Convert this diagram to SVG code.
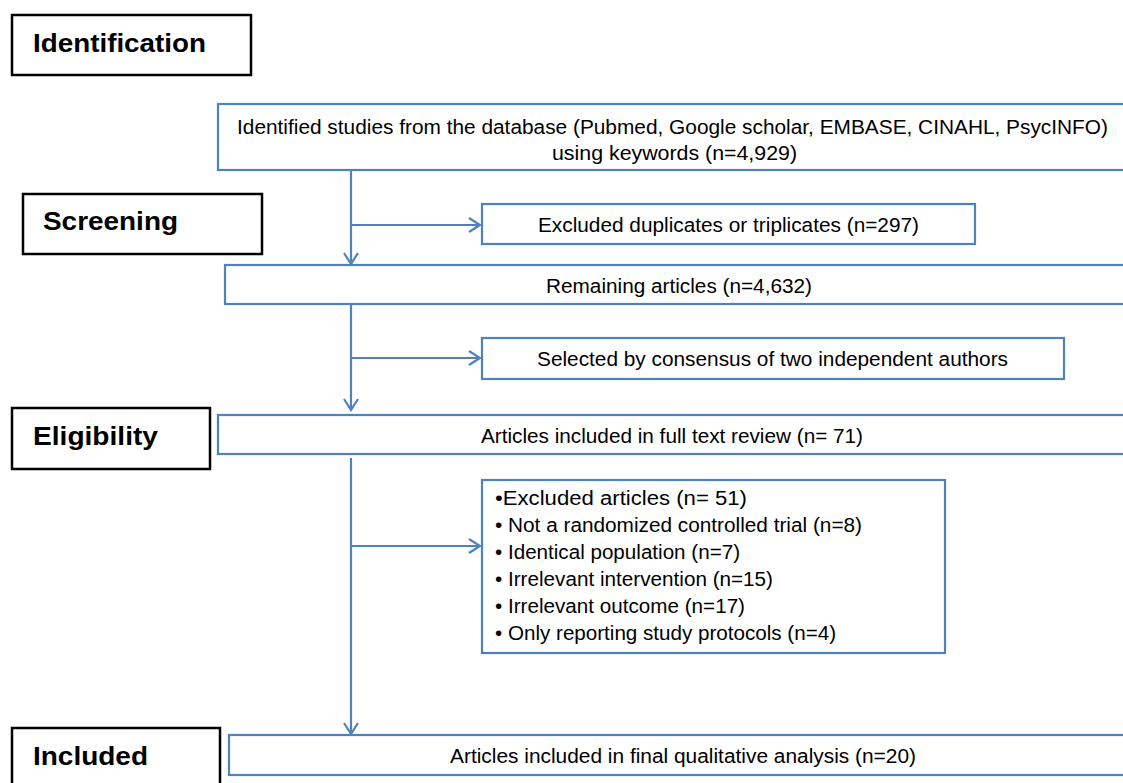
<svg xmlns="http://www.w3.org/2000/svg" width="1123" height="783" viewBox="0 0 1123 783">
<defs>
<style>
.stage{fill:#fff;stroke:#000;stroke-width:2.5}
.stxt{font-family:"Liberation Sans",Arial,sans-serif;font-weight:bold;font-size:26px;fill:#000}
.box{fill:#fff;stroke:#4F81BD;stroke-width:2.2}
.txt{font-family:"Liberation Sans",Arial,sans-serif;font-size:20px;fill:#000}
.conn{fill:none;stroke:#4F81BD;stroke-width:2.2}
</style>
<marker id="arr" markerWidth="16" markerHeight="16" refX="13" refY="8" orient="auto" markerUnits="userSpaceOnUse">
<polyline points="2,1 13,8 2,15" fill="none" stroke="#4F81BD" stroke-width="2.2"/>
</marker>
</defs>
<rect width="1123" height="783" fill="#fff"/>

<g id="stage-identification"><rect class="stage" x="12" y="15" width="239" height="60"/><text class="stxt" x="33" y="52" textLength="173" lengthAdjust="spacingAndGlyphs">Identification</text></g>
<g id="stage-screening"><rect class="stage" x="23" y="194" width="239" height="60"/><text class="stxt" x="43" y="230" textLength="135" lengthAdjust="spacingAndGlyphs">Screening</text></g>
<g id="stage-eligibility"><rect class="stage" x="12" y="408" width="198" height="61"/><text class="stxt" x="33" y="445" textLength="125" lengthAdjust="spacingAndGlyphs">Eligibility</text></g>
<g id="stage-included"><rect class="stage" x="12" y="728" width="208" height="60"/><text class="stxt" x="33" y="765" textLength="115" lengthAdjust="spacingAndGlyphs">Included</text></g>

<g id="connectors">
<line class="conn" x1="351" y1="170" x2="351" y2="264" marker-end="url(#arr)"/>
<line class="conn" x1="351" y1="225" x2="480" y2="225" marker-end="url(#arr)"/>
<line class="conn" x1="351" y1="304" x2="351" y2="410" marker-end="url(#arr)"/>
<line class="conn" x1="351" y1="358" x2="480" y2="358" marker-end="url(#arr)"/>
<line class="conn" x1="351" y1="458" x2="351" y2="734" marker-end="url(#arr)"/>
<line class="conn" x1="351" y1="546" x2="480" y2="546" marker-end="url(#arr)"/>
</g>

<g id="n-identified"><rect class="box" x="218" y="104" width="910" height="66"/>
<text class="txt" x="237" y="134" textLength="871" lengthAdjust="spacingAndGlyphs">Identified studies from the database (Pubmed, Google scholar, EMBASE, CINAHL, PsycINFO)</text>
<text class="txt" x="552" y="160" textLength="245" lengthAdjust="spacingAndGlyphs">using keywords (n=4,929)</text></g>

<g id="n-duplicates"><rect class="box" x="482" y="204" width="493" height="40"/>
<text class="txt" x="538" y="232" textLength="381" lengthAdjust="spacingAndGlyphs">Excluded duplicates or triplicates (n=297)</text></g>

<g id="n-remaining"><rect class="box" x="225" y="265" width="903" height="39"/>
<text class="txt" x="546" y="293" textLength="266" lengthAdjust="spacingAndGlyphs">Remaining articles (n=4,632)</text></g>

<g id="n-selected"><rect class="box" x="482" y="338" width="582" height="41"/>
<text class="txt" x="537" y="366" textLength="471" lengthAdjust="spacingAndGlyphs">Selected by consensus of two independent authors</text></g>

<g id="n-fulltext"><rect class="box" x="218" y="415" width="910" height="39"/>
<text class="txt" x="481" y="443" textLength="382" lengthAdjust="spacingAndGlyphs">Articles included in full text review (n= 71)</text></g>

<g id="n-excluded"><rect class="box" x="482" y="480" width="463" height="173"/>
<text class="txt" x="495" y="505" textLength="252" lengthAdjust="spacingAndGlyphs">•Excluded articles (n= 51)</text>
<text class="txt" x="495" y="532" textLength="367" lengthAdjust="spacingAndGlyphs">• Not a randomized controlled trial (n=8)</text>
<text class="txt" x="495" y="559" textLength="245" lengthAdjust="spacingAndGlyphs">• Identical population (n=7)</text>
<text class="txt" x="495" y="586" textLength="278" lengthAdjust="spacingAndGlyphs">• Irrelevant intervention (n=15)</text>
<text class="txt" x="495" y="613" textLength="250" lengthAdjust="spacingAndGlyphs">• Irrelevant outcome (n=17)</text>
<text class="txt" x="495" y="640" textLength="341" lengthAdjust="spacingAndGlyphs">• Only reporting study protocols (n=4)</text></g>

<g id="n-final"><rect class="box" x="229" y="735" width="899" height="40"/>
<text class="txt" x="450" y="763" textLength="466" lengthAdjust="spacingAndGlyphs">Articles included in final qualitative analysis (n=20)</text></g>
</svg>
